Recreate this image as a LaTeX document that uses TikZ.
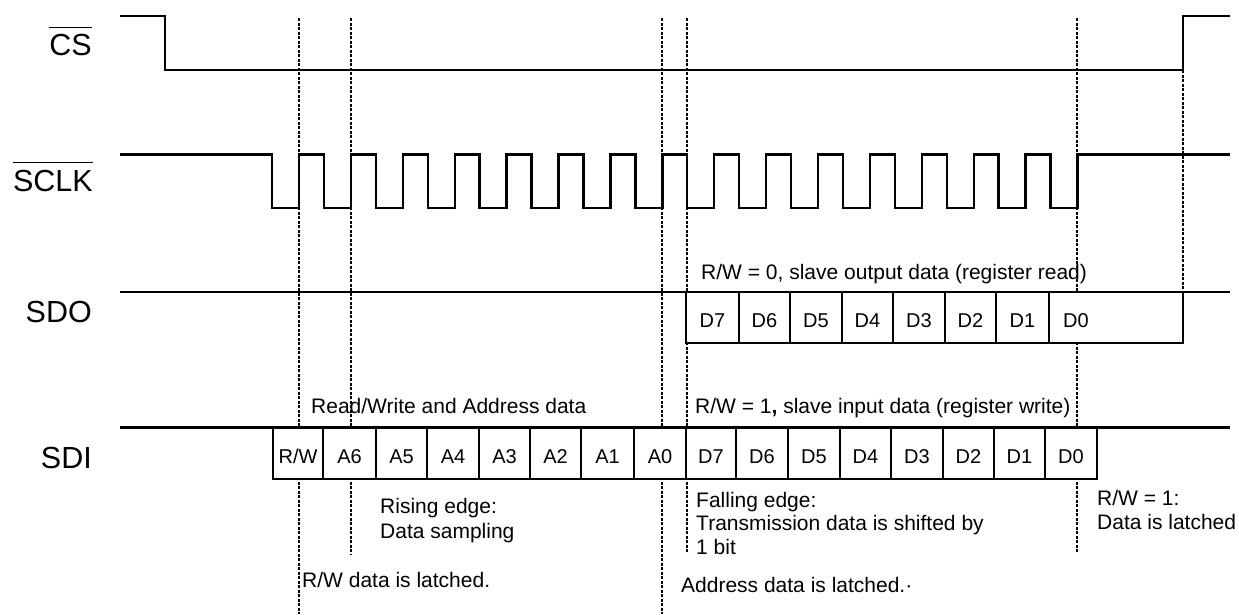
\documentclass[tikz,border=0pt]{standalone}
\usepackage{fontspec}
\setmainfont{Liberation Sans}
\usetikzlibrary{positioning}

\begin{document}
\begin{tikzpicture}[x=1pt, y=-1pt,
  wave/.style={line width=2.4pt},
  bus/.style={line width=2.2pt},
  guide/.style={line width=1.2pt, dash pattern=on 3pt off 1.5pt},
  cell/.style={draw, line width=2.2pt, fill=white, minimum height=51.5pt, inner sep=0pt, text height=20pt, text depth=0pt, font=\fontsize{20}{24}\selectfont},
  sig/.style={anchor=base east, inner sep=0pt, font=\fontsize{30.5}{36}\selectfont},
  note/.style={anchor=base west, inner sep=0pt, font=\fontsize{21}{25}\selectfont}
]
  \useasboundingbox (0,0) rectangle (1239,614);

  % signal names
  \node[sig] (cs) at (92,55) {CS};
  \node[sig] (sclk) at (93,191) {SCLK};
  \node[sig] (sdo) at (92,322) {SDO};
  \node[sig] (sdi) at (92,468) {SDI};
  \draw[line width=1.1pt] ([yshift=6pt]cs.north west) -- ([yshift=6pt]cs.north east);
  \draw[line width=1.1pt] ([yshift=7pt]sclk.north west) -- ([yshift=7pt]sclk.north east);

  % timing guides
  \foreach \x/\ya/\yb in {299/18/614, 351/18/555, 662/18/614, 687/18/553, 1077/18/552, 1183/70/292}
    \draw[guide] (\x,\ya) -- (\x,\yb);

  % chip select and clock
  \draw[wave] (120,16) -- (165,16) -- (165,70) -- (1183,70) -- (1183,16) -- (1230,16);
  \draw[wave] (120,154.5) foreach \k in {0,...,15} {
      -- ({272+51.9*\k},154.5) -- ({272+51.9*\k},208)
      -- ({299+51.9*\k},208) -- ({299+51.9*\k},154.5) } -- (1230,154.5);

  % data lines
  \draw[bus] (120,292) -- (1230,292);
  \draw[bus] (120,427.5) -- (1230,427.5);

  % SDO frame
  \foreach \l/\r/\t [count=\i] in {686/739/D7, 739/790/D6, 790/842/D5, 842/893/D4,
                                   893/945/D3, 945/996/D2, 996/1049/D1}
    \node[cell, minimum width={(\r-\l)*1pt}] (sdo\i) at ({(\l+\r)/2},317.5) {\t};
  \node[cell, minimum width=134pt] (sdo8) at (1116,317.5) {};
  \node[anchor=base, inner sep=0pt, font=\fontsize{20}{24}\selectfont] (sdod0) at (1076,327.5) {D0};

  % SDI frame
  \foreach \l/\r/\t [count=\i] in {273/323/{R/W}, 323/376/A6, 376/427/A5, 427/479/A4,
                                   479/530/A3, 530/581/A2, 581/634/A1, 634/686/A0,
                                   686/736/D7, 736/788/D6, 788/840/D5, 840/891/D4,
                                   891/943/D3, 943/994/D2, 994/1045/D1, 1045/1097/D0}
    \node[cell, minimum width={(\r-\l)*1pt}] (sdi\i) at ({(\l+\r)/2},453.25) {\t};

  % annotations
  \node[note] (rdhead) at (701,279) {R/W = 0, slave output data (register read)};
  \node[note] (rwaddr) at (311,413) {Read/Write and Address data};
  \node[note] (wrhead) at (695,413) {R/W = 1\textbf{,} slave input data (register write)};
  \node[note] (rise1) at (380,513) {Rising edge:};
  \node[note] (rise2) at (380,538) {Data sampling};
  \node[note] (rwlatch) at (302,587) {R/W data is latched.};
  \node[note] (fall1) at (696,507) {Falling edge:};
  \node[note] (fall2) at (696,530) {Transmission data is shifted by};
  \node[note] (fall3) at (696,554) {1 bit};
  \node[note] (adlatch) at (681,592) {Address data is latched.·};
  \node[note] (end1) at (1097,505) {R/W = 1:};
  \node[note] (end2) at (1097,529) {Data is latched};
\end{tikzpicture}
\end{document}
